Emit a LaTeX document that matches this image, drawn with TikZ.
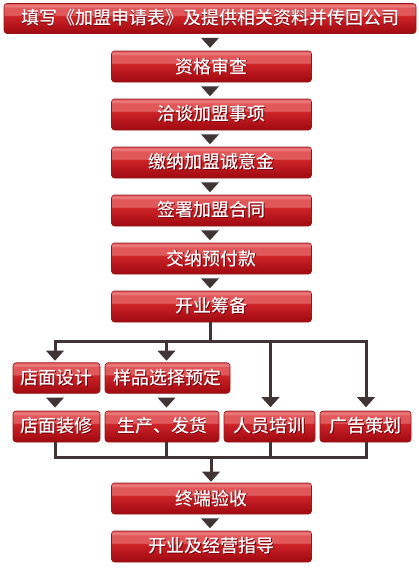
\documentclass[tikz,border=0pt]{standalone}
\usepackage{fontspec}
\setmainfont{Noto Sans CJK SC Medium}
\usetikzlibrary{arrows.meta,calc}
\definecolor{linec}{RGB}{64,52,52}
\definecolor{rbtop}{RGB}{236,128,128}
\definecolor{rbup}{RGB}{224,88,90}
\definecolor{rbmid}{RGB}{204,36,40}
\definecolor{rbbot}{RGB}{160,8,16}
\definecolor{rbord}{RGB}{150,22,26}
\definecolor{shad}{RGB}{120,0,8}
\pgfdeclareverticalshading{redbtn}{100bp}{color(0bp)=(rbbot); color(25bp)=(rbbot); color(54bp)=(rbmid); color(56bp)=(rbup); color(68bp)=(rbup); color(71bp)=(rbtop); color(75bp)=(rbup); color(100bp)=(rbup)}
\newcommand\shtx[1]{\rlap{\kern0.8pt\raisebox{-0.8pt}{\textcolor{shad}{#1}}}#1}
\tikzset{
  box/.style={rectangle, rounded corners=3pt, shading=redbtn, draw=rbord, line width=0.6pt,
    inner sep=0pt, minimum height=31pt, text=white, font=\fontsize{18pt}{18pt}\selectfont},
  conn/.style={draw=linec, line width=3pt},
  arr/.style={conn, -{Triangle[width=18pt,length=10pt,line width=0pt]}},
  tri/.style={fill=linec}
}
\begin{document}
\begin{tikzpicture}[x=1pt,y=-1pt]
\useasboundingbox (0,0) rectangle (418,573);
% main chain
\node[box, minimum width=412pt, minimum height=30pt] (t) at (210,18.5) {\shtx{填写《加盟申请表》及提供相关资料并传回公司}};
\node[box, minimum width=200pt] (m1) at (211.5,66.5) {\shtx{资格审查}};
\node[box, minimum width=200pt] (m2) at (211.5,114.5) {\shtx{洽谈加盟事项}};
\node[box, minimum width=200pt] (m3) at (211.5,162.5) {\shtx{缴纳加盟诚意金}};
\node[box, minimum width=200pt] (m4) at (211.5,210.5) {\shtx{签署加盟合同}};
\node[box, minimum width=200pt] (m5) at (211.5,258.5) {\shtx{交纳预付款}};
\node[box, minimum width=200pt] (kb) at (211.5,306.5) {\shtx{开业筹备}};
% rows
\node[box, minimum width=87pt, minimum height=30.5pt] (d1) at (56.5,378) {\shtx{店面设计}};
\node[box, minimum width=125pt, minimum height=30.5pt] (d2) at (167.5,378) {\shtx{样品选择预定}};
\node[box, minimum width=87pt] (e1) at (56.5,426.5) {\shtx{店面装修}};
\node[box, minimum width=114pt] (e2) at (162,426.5) {\shtx{生产、发货}};
\node[box, minimum width=91pt] (e3) at (269.5,426.5) {\shtx{人员培训}};
\node[box, minimum width=91pt] (e4) at (365.5,426.5) {\shtx{广告策划}};
% end chain
\node[box, minimum width=200pt] (f1) at (211.5,498.5) {\shtx{终端验收}};
\node[box, minimum width=200pt] (f2) at (211.5,546.5) {\shtx{开业及经营指导}};
% floating triangles
\fill[tri] ($(t.south)+(-9,4)$) -- ++(18,0) -- ++(-9,10) -- cycle;
\foreach \a in {m1,m2,m3,m4,m5,f1}{
  \fill[tri] ($(\a.south)+(-10.5,4)$) -- ++(18,0) -- ++(-9,10) -- cycle;
}
\fill[tri] ($(d1.south)+(-10.5,4)$) -- ++(18,0) -- ++(-9,10) -- cycle;
\fill[tri] ($(d2.south)+(-10,4)$) -- ++(18,0) -- ++(-9,10) -- cycle;
% branching
\coordinate (br) at (210,341);
\coordinate (h1) at (55,341);
\coordinate (h2) at (166.5,341);
\coordinate (h3) at (270.5,341);
\coordinate (h4) at (366,341);
\draw[conn] (kb.south -| br) -- (br);
\draw[conn, line cap=rect] (h1) -- (h4);
\draw[arr, shorten >=1.75pt] (h1) -- (h1 |- d1.north);
\draw[arr, shorten >=1.75pt] (h2) -- (h2 |- d2.north);
\draw[arr, shorten >=3.5pt] (h3) -- (h3 |- e3.north);
\draw[arr, shorten >=3.5pt] (h4) -- (h4 |- e4.north);
% merging
\coordinate (g1) at (55,457);
\coordinate (g2) at (166.5,457);
\coordinate (g3) at (270.5,457);
\coordinate (g4) at (366,457);
\coordinate (gc) at (211,457);
\draw[conn] (e1.south -| g1) -- (g1);
\draw[conn] (e2.south -| g2) -- (g2);
\draw[conn] (e3.south -| g3) -- (g3);
\draw[conn] (e4.south -| g4) -- (g4);
\draw[conn, line cap=rect] (g1) -- (g4);
\draw[arr, shorten >=1pt] (gc) -- (gc |- f1.north);
\end{tikzpicture}
\end{document}
